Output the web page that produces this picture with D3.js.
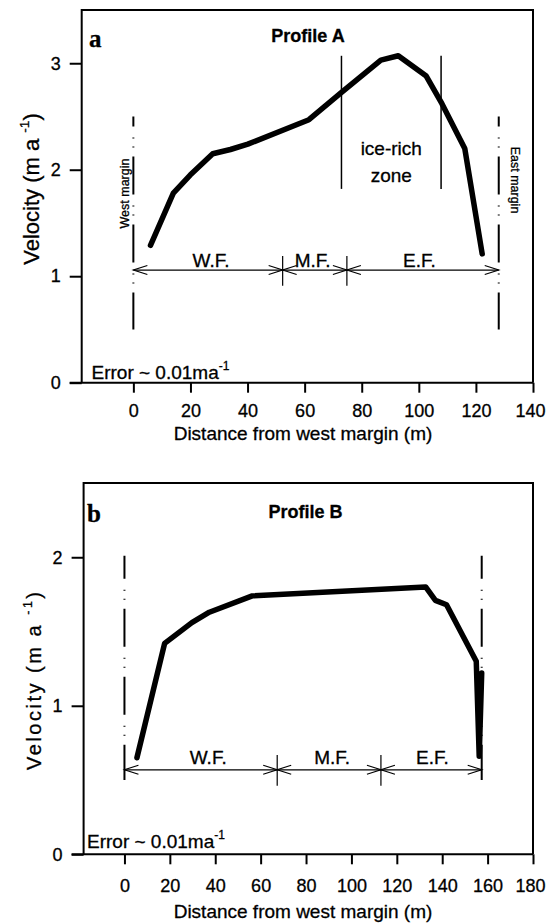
<!DOCTYPE html>
<html>
<head>
<meta charset="utf-8">
<script src="https://cdn.jsdelivr.net/npm/d3@7"></script>
<style>
  body { margin: 0; background: #fff; }
  text { font-family: "Liberation Sans", Arial, sans-serif; fill: #000; stroke: #000; stroke-width: 0.3px; }
</style>
</head>
<body>
<svg id="chart" width="547" height="924"></svg>
<script>
// ---- Profile A data ----
const distA = [6.0, 14.0, 19.9, 27.8, 34.0, 40.1, 61.5, 72.6, 86.7, 92.8, 102.6, 108.1, 116.1, 122.2];
const velA  = [1.29, 1.78, 1.95, 2.15, 2.19, 2.24, 2.47, 2.72, 3.03, 3.07, 2.88, 2.62, 2.20, 1.21];
const xTicksA = [0, 20, 40, 60, 80, 100, 120, 140];
const yTicksA = [0, 1, 2, 3];
const zoneNamesA = ["W.F.", "M.F.", "E.F."];
const zoneBoundsA = [0, 52.3, 74.8, 128.0];   // west margin, divisions, east margin
const zoneLabelXA = [27.2, 62.8, 100.2];
const iceRichA = [72.9, 107.8];

// ---- Profile B data ----
const distB = [5.5, 17.7, 29.7, 37.4, 56.3, 132.7, 137.0, 141.9, 155.0, 156.3, 157.4];
const velB  = [0.65, 1.42, 1.56, 1.63, 1.74, 1.80, 1.71, 1.68, 1.30, 0.66, 1.22];
const xTicksB = [0, 20, 40, 60, 80, 100, 120, 140, 160, 180];
const yTicksB = [0, 1, 2];
const zoneNamesB = ["W.F.", "M.F.", "E.F."];
const zoneBoundsB = [0, 67.3, 113.0, 157.4];
const zoneLabelXB = [36.9, 91.5, 135.7];

const svg = d3.select("#chart");
svg.append("rect").attr("width", 547).attr("height", 924).attr("fill", "#fff");

function drawPanel(p) {
    const g = svg.append("g");
    const x = d3.scaleLinear().domain(p.xDomain).range(p.xRange);
    const y = d3.scaleLinear().domain(p.yDomain).range(p.yRange);
    const [left, right] = p.xRange;
    const [bottom, top] = p.yRange;

    // frame
    g.append("path")
        .attr("d", `M${left},${bottom} L${left},${top} L${right},${top} L${right},${bottom}`)
        .attr("fill", "none").attr("stroke", "#000").attr("stroke-width", 2);
    // x axis line, runs past the frame like a y tick
    g.append("line")
        .attr("x1", left - 12).attr("x2", right)
        .attr("y1", bottom).attr("y2", bottom)
        .attr("stroke", "#000").attr("stroke-width", 2);

    const xAxis = g.append("g")
        .attr("transform", `translate(0,${bottom})`)
        .call(d3.axisBottom(x).tickValues(p.xTicks).tickSize(10).tickPadding(p.xPad).tickFormat(d3.format("d")));
    const yAxis = g.append("g")
        .attr("transform", `translate(${left},0)`)
        .call(d3.axisLeft(y).tickValues(p.yTicks).tickSize(12).tickPadding(9).tickFormat(d3.format("d")));
    [xAxis, yAxis].forEach(a => {
        a.select(".domain").remove();
        a.selectAll("line").attr("stroke", "#000").attr("stroke-width", 2);
        a.selectAll("text").attr("font-size", 18).attr("fill", "#000")
            .style("font-family", '"Liberation Sans", Arial, sans-serif');
    });
    // keep the last x label inside the page
    xAxis.selectAll(".tick:last-of-type text").attr("dx", -3);

    // axis titles
    g.append("text")
        .attr("x", p.xTitle[0]).attr("y", p.xTitle[1])
        .attr("text-anchor", "middle").attr("font-size", 19)
        .text("Distance from west margin (m)");
    const yt = g.append("text")
        .attr("transform", `translate(${p.yTitle[0]},${p.yTitle[1]}) rotate(-90)`)
        .attr("text-anchor", "middle").attr("font-size", p.yTitleSize);
    if (p.yTitleLen) yt.attr("textLength", p.yTitleLen).attr("lengthAdjust", "spacing");
    yt.append("tspan").text("Velocity (m a ");
    yt.append("tspan").attr("font-size", p.yTitleSize * 0.62).attr("dy", -p.yTitleSize * 0.45).text("-1");
    yt.append("tspan").attr("dy", p.yTitleSize * 0.45).text(")");

    // panel letter and title
    g.append("text")
        .attr("x", p.letter[0]).attr("y", p.letter[1])
        .attr("font-size", 25).attr("font-weight", "bold")
        .style("font-family", '"Liberation Serif", "Times New Roman", serif')
        .text(p.letterText);
    g.append("text")
        .attr("x", p.title[0]).attr("y", p.title[1])
        .attr("text-anchor", "middle").attr("font-size", 18).attr("font-weight", "bold")
        .text(p.titleText);

    // error note
    const err = g.append("text")
        .attr("x", p.err[0]).attr("y", p.err[1]).attr("font-size", 19);
    err.append("tspan").text("Error ~ 0.01ma");
    err.append("tspan").attr("font-size", 12).attr("dy", -9).text("-1");

    // margin lines (dash-dot)
    [p.bounds[0], p.bounds[p.bounds.length - 1]].forEach(v => {
        g.append("line")
            .attr("x1", x(v)).attr("x2", x(v))
            .attr("y1", y(p.marginTop)).attr("y2", y(0.5))
            .attr("stroke", "#000").attr("stroke-width", 2)
            .attr("stroke-dasharray", "38,11,1,8,1,9")
            .attr("stroke-dashoffset", p.dashOffset);
    });

    // zone arrows
    const ay = y(p.arrowY);
    for (let i = 0; i < p.bounds.length - 1; i++) {
        const x0 = x(p.bounds[i]), x1 = x(p.bounds[i + 1]);
        g.append("line").attr("x1", x0).attr("x2", x1).attr("y1", ay).attr("y2", ay)
            .attr("stroke", "#000").attr("stroke-width", 1.2);
        g.append("path")
            .attr("d", `M${x0 + 14},${ay - 4.5} L${x0},${ay} L${x0 + 14},${ay + 4.5}` +
                       `M${x1 - 14},${ay - 4.5} L${x1},${ay} L${x1 - 14},${ay + 4.5}`)
            .attr("fill", "none").attr("stroke", "#000").attr("stroke-width", 1.2);
        g.append("text")
            .attr("x", x(p.zoneLabelX[i])).attr("y", y(p.zoneLabelY))
            .attr("text-anchor", "middle").attr("font-size", 19)
            .text(p.zoneNames[i]);
    }
    p.bounds.slice(1, -1).forEach(v => {
        g.append("line").attr("x1", x(v)).attr("x2", x(v))
            .attr("y1", y(p.divTick[0])).attr("y2", y(p.divTick[1]))
            .attr("stroke", "#000").attr("stroke-width", 1.2);
    });

    // margin labels
    if (p.westText) {
        g.append("text")
            .attr("transform", `translate(${p.westLbl[0]},${p.westLbl[1]}) rotate(-90)`)
            .attr("text-anchor", "middle").attr("font-size", 12.5)
            .text(p.westText);
        g.append("text")
            .attr("transform", `translate(${p.eastLbl[0]},${p.eastLbl[1]}) rotate(90)`)
            .attr("text-anchor", "middle").attr("font-size", 12.5)
            .text(p.eastText);
    }

    if (p.iceRich) {
        p.iceRich.forEach(v => {
            g.append("line").attr("x1", x(v)).attr("x2", x(v))
                .attr("y1", y(3.07)).attr("y2", y(1.82))
                .attr("stroke", "#000").attr("stroke-width", 1.5);
        });
        const cx = x((p.iceRich[0] + p.iceRich[1]) / 2);
        g.append("text").attr("x", cx).attr("y", 155).attr("text-anchor", "middle")
            .attr("font-size", 19).text("ice-rich");
        g.append("text").attr("x", cx).attr("y", 181.5).attr("text-anchor", "middle")
            .attr("font-size", 19).text("zone");
    }

    // velocity profile
    const line = d3.line().x(d => x(d[0])).y(d => y(d[1]));
    g.append("path")
        .datum(d3.zip(p.dist, p.vel))
        .attr("d", line)
        .attr("fill", "none").attr("stroke", "#000").attr("stroke-width", 5.5)
        .attr("stroke-linejoin", "round").attr("stroke-linecap", "round");
}

drawPanel({
    xDomain: [-18.1, 140], xRange: [81.7, 533],
    yDomain: [0, 3.5], yRange: [382.7, 10],
    xTicks: xTicksA, yTicks: yTicksA, xPad: 11.5,
    xTitle: [303, 440], yTitle: [38.5, 189], yTitleSize: 22,
    letter: [89, 46.5], letterText: "a",
    title: [308, 41.5], titleText: "Profile A",
    err: [91.5, 379],
    bounds: zoneBoundsA, zoneNames: zoneNamesA, zoneLabelX: zoneLabelXA,
    zoneLabelY: 1.09, arrowY: 1.058, divTick: [1.19, 0.91],
    marginTop: 2.5, dashOffset: 28,
    westLbl: [129, 193.5], westText: "West margin",
    eastLbl: [511, 180], eastText: "East margin",
    iceRich: iceRichA,
    dist: distA, vel: velA
});

drawPanel({
    xDomain: [-18, 180], xRange: [83.6, 533],
    yDomain: [0, 2.5], yRange: [854.3, 483],
    xTicks: xTicksB, yTicks: yTicksB, xPad: 14.5,
    xTitle: [303, 918], yTitle: [41, 681], yTitleSize: 20, yTitleLen: 178,
    letter: [87, 521.5], letterText: "b",
    title: [305.5, 518.3], titleText: "Profile B",
    err: [87, 848],
    bounds: zoneBoundsB, zoneNames: zoneNamesB, zoneLabelX: zoneLabelXB,
    zoneLabelY: 0.61, arrowY: 0.569, divTick: [0.669, 0.462],
    marginTop: 2.01, dashOffset: 15,
    dist: distB, vel: velB
});
</script>
</body>
</html>
